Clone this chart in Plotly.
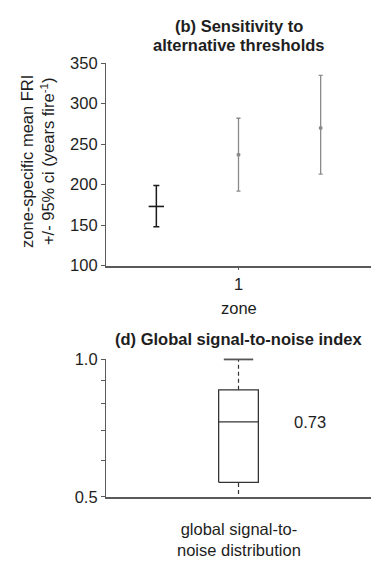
import math
import plotly.graph_objects as go

# ---- data -------------------------------------------------------------
zone_labels = ["1"]
# three threshold variants plotted side by side within zone 1
fri_mean = [173, 237, 270]
fri_upper = [199, 282, 335]
fri_lower = [148, 192, 213]
series_colors = ["#1a1a1a", "#8a8a8a", "#8a8a8a"]
series_offsets = [-0.31, 0.0, 0.31]

# global signal-to-noise distribution summary
snr_upper_fence = 1.0
snr_q3 = 0.858
snr_median = 0.73
snr_q1 = 0.538
snr_lower_fence = 0.49
snr_category = "global signal-to-<br>noise distribution"
snr_major_ticks = [0.5, 1.0]
snr_minor_ticks = [0.6, 0.7, 0.8, 0.9]

# ---- layout helpers --------------------------------------------------
W, H = 371, 563
ML = 106
FONT = "Arial, 'Liberation Sans', sans-serif"
FS = 16.5
TXT = "#1e1e1e"
AXC = "#5a5a5a"


def py(p):
    """pixel row -> paper y"""
    return 1 - p / H


fig = go.Figure()

# ---- panel (b): error bars ------------------------------------------
for i, (m, hi, lo) in enumerate(zip(fri_mean, fri_upper, fri_lower)):
    first = i == 0
    fig.add_trace(go.Scatter(
        x=[1 + series_offsets[i]], y=[m],
        mode="markers",
        marker=dict(
            symbol="line-ew" if first else "circle",
            size=11 if first else 4,
            color=series_colors[i],
            line=dict(color=series_colors[i], width=1.6 if first else 0),
        ),
        error_y=dict(type="data", symmetric=False,
                     array=[hi - m], arrayminus=[m - lo],
                     color=series_colors[i], thickness=1.5 if first else 1.3,
                     width=3 if first else 2),
        cliponaxis=False, showlegend=False, hoverinfo="skip",
        xaxis="x", yaxis="y",
    ))

# ---- panel (d): box drawn from the summary values -------------------
bw = 0.075   # half box width (x units)
box_line = dict(color="#333333", width=1.3)
fig.add_trace(go.Scatter(
    x=[1 - bw, 1 + bw, 1 + bw, 1 - bw, 1 - bw],
    y=[snr_q1, snr_q1, snr_q3, snr_q3, snr_q1],
    mode="lines", line=box_line, showlegend=False, hoverinfo="skip",
    xaxis="x2", yaxis="y2"))
fig.add_trace(go.Scatter(
    x=[1 - bw, 1 + bw], y=[snr_median, snr_median],
    mode="lines", line=box_line, showlegend=False, hoverinfo="skip",
    xaxis="x2", yaxis="y2"))
fig.add_trace(go.Scatter(
    x=[1, 1], y=[snr_q3, snr_upper_fence],
    mode="lines", line=dict(color="#333333", width=1.2, dash="4px,3px"),
    showlegend=False, hoverinfo="skip", xaxis="x2", yaxis="y2"))
fig.add_trace(go.Scatter(
    x=[1, 1], y=[snr_lower_fence, snr_q1],
    mode="lines", line=dict(color="#333333", width=1.2, dash="4px,3px"),
    showlegend=False, hoverinfo="skip", xaxis="x2", yaxis="y2"))
fig.add_trace(go.Scatter(
    x=[1], y=[snr_upper_fence], mode="markers",
    marker=dict(symbol="line-ew", size=21, line=dict(color="#555555", width=1.8)),
    cliponaxis=False, showlegend=False, hoverinfo="skip",
    xaxis="x2", yaxis="y2"))

# ---- axes ------------------------------------------------------------
common = dict(showgrid=False, zeroline=False, showline=True,
              tickfont=dict(family=FONT, size=FS, color=TXT))
fig.update_layout(
    width=W, height=H,
    margin=dict(l=ML, r=0, t=0, b=0),
    paper_bgcolor="white", plot_bgcolor="white",
    font=dict(family=FONT, size=FS, color=TXT),
    xaxis=dict(domain=[0, 1], range=[0.5, 1.5], tickvals=[1], ticktext=zone_labels,
               ticks="outside", ticklen=3, tickcolor=AXC, linecolor=AXC, linewidth=1.5,
               anchor="y", **common),
    yaxis=dict(domain=[py(265), py(56)], range=[100, 350],
               tickvals=[100, 150, 200, 250, 300, 350],
               ticks="outside", ticklen=4, tickcolor=AXC, linecolor=AXC, linewidth=1.2,
               anchor="x", **common),
    xaxis2=dict(domain=[0, 1], range=[0.5, 1.5], showticklabels=False, ticks="",
                linecolor=AXC, linewidth=1.5, anchor="y2", **common),
    yaxis2=dict(domain=[py(504), py(362)], type="log",
                range=[math.log10(0.5), 0.0],
                tickvals=snr_major_ticks,
                ticktext=[f"{v:.1f}" for v in snr_major_ticks],
                ticks="outside", ticklen=4, tickcolor=AXC, linecolor=AXC, linewidth=1.2,
                minor=dict(tickvals=snr_minor_ticks, ticks="outside", ticklen=4,
                           tickcolor=AXC, showgrid=False),
                anchor="x2", **common),
)

# ---- text -------------------------------------------------------------
ann = []
ann.append(dict(text="<b>(b) Sensitivity to</b>", x=0.5, xref="x domain",
                y=py(18), yref="paper", showarrow=False, yanchor="middle"))
ann.append(dict(text="<b>alternative thresholds</b>", x=0.5, xref="x domain",
                y=py(37.5), yref="paper", showarrow=False, yanchor="middle"))
ann.append(dict(text="zone-specific mean FRI<br>+/- 95% ci (years fire<sup>-1</sup>)",
                textangle=-90, x=(38 - ML) / (W - ML), xref="paper",
                y=py(158), yref="paper", showarrow=False,
                xanchor="center", yanchor="middle"))
ann.append(dict(text="zone", x=0.5, xref="x domain", y=py(309), yref="paper",
                showarrow=False, yanchor="middle"))
ann.append(dict(text="<b>(d) Global signal-to-noise index</b>", x=0.5, xref="x domain",
                y=py(341), yref="paper", showarrow=False, yanchor="middle"))
# log axis: annotation y is given in log10 units
ann.append(dict(text=f"{snr_median:.2f}", x=1.27, xref="x2",
                y=math.log10(snr_median), yref="y2",
                showarrow=False, yanchor="middle"))
ann.append(dict(text=snr_category, x=0.5, xref="x2 domain", y=py(548), yref="paper",
                showarrow=False, yanchor="middle"))
fig.update_layout(annotations=ann)

fig.write_html("out.html")
